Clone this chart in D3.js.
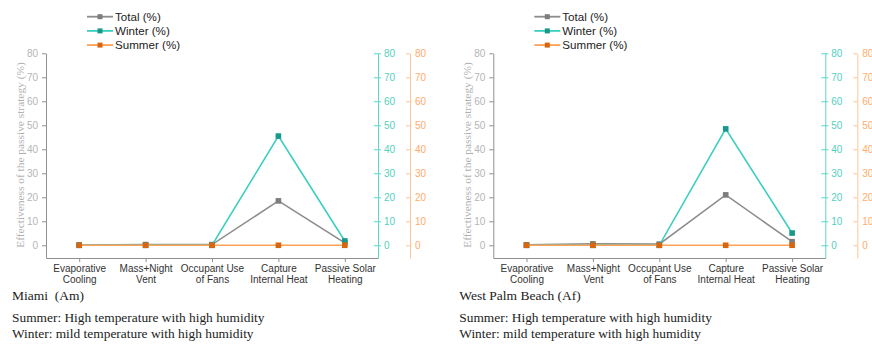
<!DOCTYPE html>
<html>
<head>
<meta charset="utf-8">
<script src="https://cdn.jsdelivr.net/npm/d3@7"></script>
<style>
  body { margin: 0; background: #fff; }
  svg { display: block; }
  .axis text { font-family: "Liberation Sans", Arial, sans-serif; font-size: 10px; }
</style>
</head>
<body>
<div id="chart"></div>
<script>
const categories = [
  ['Evaporative', 'Cooling'],
  ['Mass+Night', 'Vent'],
  ['Occupant Use', 'of Fans'],
  ['Capture', 'Internal Heat'],
  ['Passive Solar', 'Heating']
];
const yTicks = [0, 10, 20, 30, 40, 50, 60, 70, 80];

const miamiTotal = [0.1, 0.3, 0.3, 18.5, 1.0];
const miamiWinter = [0, 0, 0, 45.5, 1.8];
const miamiSummer = [0, 0, 0, 0, 0];

const wpbTotal = [0.2, 0.6, 0.5, 21.0, 1.5];
const wpbWinter = [0, 0, 0, 48.5, 5.1];
const wpbSummer = [0, 0, 0, 0, 0];

const seriesNames = ['Total (%)', 'Winter (%)', 'Summer (%)'];

const yLabel = 'Effectiveness of the passive strategy (%)';
const climateNote = ['Summer: High temperature with high humidity', 'Winter: mild temperature with high humidity'];

const style = [
  { line: '#8c8c8c', mark: '#7d7d7d' },
  { line: '#3ccfbf', mark: '#16998a' },
  { line: '#ffa257', mark: '#d9650f' }
];

const W = 872, H = 344;
const plot = { width: 332, top: 53.3, bottom: 258 };

const svg = d3.select('#chart')
  .append('svg')
  .attr('width', W)
  .attr('height', H);

const drawPanel = (x0, title, total, winter, summer) => {
  const g = svg.append('g').attr('transform', 'translate(' + x0 + ',0)');

  const x = d3.scalePoint().domain(d3.range(categories.length)).range([0, plot.width]).padding(0.5);
  const y = d3.scaleLinear().domain([-5.3, 80]).range([plot.bottom, plot.top]);

  // left axis
  const left = g.append('g').attr('class', 'axis')
    .call(d3.axisLeft(y).tickValues(yTicks).tickSize(4).tickSizeOuter(0).tickPadding(4));
  left.select('.domain').attr('stroke', '#8f8f8f');
  left.selectAll('.tick line').attr('stroke', '#8f8f8f');
  left.selectAll('.tick text').attr('fill', '#b5b5b5');

  // winter axis
  const wAxis = g.append('g').attr('class', 'axis')
    .attr('transform', 'translate(' + plot.width + ',0)')
    .call(d3.axisRight(y).tickValues(yTicks).tickSize(3).tickSizeOuter(0).tickPadding(3));
  wAxis.select('.domain').attr('stroke', '#5cd6c8');
  wAxis.selectAll('.tick line').attr('stroke', '#5cd6c8').attr('x1', -4);
  wAxis.selectAll('.tick text').attr('fill', '#55cfc0');

  // summer axis
  const sAxis = g.append('g').attr('class', 'axis')
    .attr('transform', 'translate(' + (plot.width + 32) + ',0)')
    .call(d3.axisRight(y).tickValues(yTicks).tickSize(-4).tickSizeOuter(0).tickPadding(5));
  sAxis.select('.domain').attr('stroke', '#ffc597');
  sAxis.selectAll('.tick line').attr('stroke', '#ffc597');
  sAxis.selectAll('.tick text').attr('fill', '#ffab6b');

  // x axis
  const xAxis = g.append('g').attr('class', 'axis')
    .attr('transform', 'translate(0,' + plot.bottom + ')')
    .call(d3.axisBottom(x).tickSize(4).tickSizeOuter(0).tickFormat(''));
  xAxis.select('.domain').attr('stroke', '#8f8f8f');
  xAxis.selectAll('.tick line').attr('stroke', '#8f8f8f');
  xAxis.selectAll('.tick').append('text')
    .attr('fill', '#333')
    .attr('text-anchor', 'middle')
    .selectAll('tspan')
    .data(i => categories[i])
    .enter()
    .append('tspan')
    .attr('x', 0)
    .attr('y', (d, j) => 13.5 + j * 11.5)
    .text(d => d);

  // series
  const line = d3.line().x((d, i) => x(i)).y(d => y(d));
  [total, winter, summer].forEach((values, s) => {
    g.append('path')
      .datum(values)
      .attr('fill', 'none')
      .attr('stroke', style[s].line)
      .attr('stroke-width', 1.6)
      .attr('d', line);
    g.selectAll('rect.m' + s)
      .data(values)
      .enter()
      .append('rect')
      .attr('class', 'm' + s)
      .attr('x', (d, i) => x(i) - 2.8)
      .attr('y', d => y(d) - 2.8)
      .attr('width', 5.6)
      .attr('height', 5.6)
      .attr('fill', style[s].mark);
  });

  // legend
  const legend = g.selectAll('g.legend')
    .data(seriesNames)
    .enter()
    .append('g')
    .attr('class', 'legend')
    .attr('transform', (d, i) => 'translate(41,' + (16.7 + i * 14.2) + ')');
  legend.append('line')
    .attr('x1', 0).attr('x2', 26)
    .attr('stroke', (d, i) => style[i].line)
    .attr('stroke-width', 1.8);
  legend.append('rect')
    .attr('x', 10.5).attr('y', -2.5)
    .attr('width', 5).attr('height', 5)
    .attr('fill', (d, i) => style[i].mark);
  legend.append('text')
    .attr('x', 28)
    .attr('dy', '0.35em')
    .attr('fill', '#222')
    .attr('font-family', '"Liberation Sans", Arial, sans-serif')
    .attr('font-size', 11.6)
    .text(d => d);

  // y label
  g.append('text')
    .attr('transform', 'translate(-22,' + 155 + ') rotate(-90)')
    .attr('text-anchor', 'middle')
    .attr('fill', '#b0b0b0')
    .attr('font-family', '"Liberation Serif", "Times New Roman", serif')
    .attr('font-size', 11.4)
    .text(yLabel);

  // captions
  g.append('text')
    .attr('x', -34).attr('y', 300)
    .attr('fill', '#222')
    .attr('font-family', '"Liberation Serif", "Times New Roman", serif')
    .attr('font-size', 13.5)
    .style('white-space', 'pre')
    .text(title);
  g.selectAll('text.note')
    .data(climateNote)
    .enter()
    .append('text')
    .attr('class', 'note')
    .attr('x', -34)
    .attr('y', (d, i) => 322 + i * 16)
    .attr('fill', '#222')
    .attr('font-family', '"Liberation Serif", "Times New Roman", serif')
    .attr('font-size', 13.4)
    .text(d => d);
};

drawPanel(46, 'Miami\u00a0 (Am)', miamiTotal, miamiWinter, miamiSummer);
drawPanel(493.3, 'West Palm Beach (Af)', wpbTotal, wpbWinter, wpbSummer);
</script>
</body>
</html>
